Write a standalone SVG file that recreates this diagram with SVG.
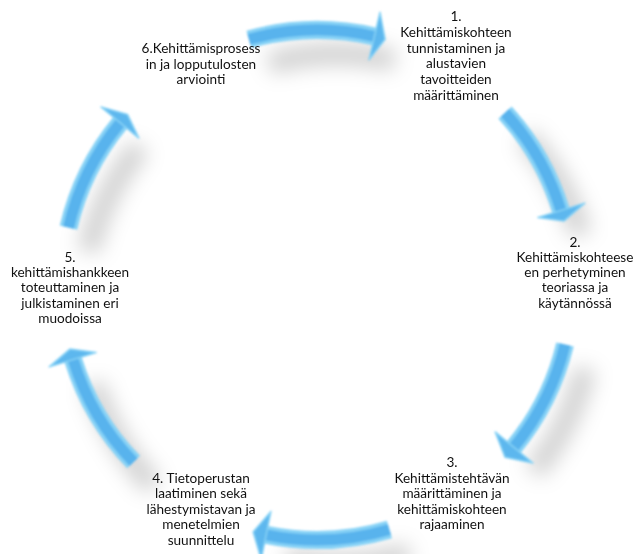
<svg xmlns="http://www.w3.org/2000/svg" width="633" height="554" viewBox="0 0 633 554">
<defs>
<filter id="sh" x="-50%" y="-50%" width="200%" height="200%"><feGaussianBlur stdDeviation="10"/></filter>
<filter id="soft" x="-10%" y="-10%" width="120%" height="120%"><feGaussianBlur stdDeviation="0.8"/></filter>
<style>
.t{font-family:Lato,"Liberation Sans",sans-serif;font-size:13.6px;fill:#111;text-anchor:middle}
.b{fill:none;stroke:#86d2f6;stroke-width:18}
.hl{fill:none;stroke:#58b3ed;stroke-width:11}
.h{fill:#5db7ee;stroke:#86d2f6;stroke-width:1.5;stroke-linejoin:round}
.s{fill:none;stroke:#000;stroke-width:22;opacity:0.18}
</style>
</defs>
<rect width="633" height="554" fill="#fff"/>
<g id="shadows" filter="url(#sh)" transform="translate(20,24)">
<path class="s" d="M248.9,39.3 A255,255 0 0 1 374.4,36.5"/>
<path class="s" d="M505.0,112.7 A255,255 0 0 1 560.9,210.4"/>
<path class="s" d="M565.0,344.5 A255,255 0 0 1 513.8,447.2"/>
<path class="s" d="M389.4,529.5 A255,255 0 0 1 266.2,534.9"/>
<path class="s" d="M133.6,462.1 A255,255 0 0 1 73.1,359.6"/>
<path class="s" d="M68.5,227.6 A255,255 0 0 1 120.2,122.8"/>
</g>
<g id="connectors" filter="url(#soft)">
<g id="a61">
<path class="b" d="M248.9,39.3 A255,255 0 0 1 374.4,36.5"/>
<path class="hl" d="M248.9,39.3 A255,255 0 0 1 374.4,36.5"/>
<polygon class="h" points="380.0,12.2 385.1,39.3 369.0,59.9"/>
</g>
<g id="a12">
<path class="b" d="M505.0,112.7 A255,255 0 0 1 560.9,210.4"/>
<path class="hl" d="M505.0,112.7 A255,255 0 0 1 560.9,210.4"/>
<polygon class="h" points="584.8,203.1 563.9,221.1 537.9,217.5"/>
</g>
<g id="a23">
<path class="b" d="M565.0,344.5 A255,255 0 0 1 513.8,447.2"/>
<path class="hl" d="M565.0,344.5 A255,255 0 0 1 513.8,447.2"/>
<polygon class="h" points="533.0,463.1 505.0,457.3 495.2,431.9"/>
</g>
<g id="a34">
<path class="b" d="M389.4,529.5 A255,255 0 0 1 266.2,534.9"/>
<path class="hl" d="M389.4,529.5 A255,255 0 0 1 266.2,534.9"/>
<polygon class="h" points="261.2,559.4 253.1,531.9 270.9,511.4"/>
</g>
<g id="a45">
<path class="b" d="M133.6,462.1 A255,255 0 0 1 73.1,359.6"/>
<path class="hl" d="M133.6,462.1 A255,255 0 0 1 73.1,359.6"/>
<polygon class="h" points="49.2,366.9 70.1,348.9 96.1,352.5"/>
</g>
<g id="a56">
<path class="b" d="M68.5,227.6 A255,255 0 0 1 120.2,122.8"/>
<path class="hl" d="M68.5,227.6 A255,255 0 0 1 120.2,122.8"/>
<polygon class="h" points="101.0,106.9 127.5,114.4 138.8,138.1"/>
</g>
</g>
<g id="n1">
<text class="t"><tspan x="456" y="21">1.</tspan><tspan x="456" y="37">Kehittämiskohteen</tspan><tspan x="456" y="53">tunnistaminen ja</tspan><tspan x="456" y="68">alustavien</tspan><tspan x="456" y="84">tavoitteiden</tspan><tspan x="456" y="100">määrittäminen</tspan></text>
</g>
<g id="n2">
<text class="t"><tspan x="575" y="247">2.</tspan><tspan x="575" y="262">Kehittämiskohteese</tspan><tspan x="575" y="277">en perhetyminen</tspan><tspan x="575" y="292">teoriassa ja</tspan><tspan x="575" y="308">käytännössä</tspan></text>
</g>
<g id="n3">
<text class="t"><tspan x="452" y="467">3.</tspan><tspan x="452" y="483">Kehittämistehtävän</tspan><tspan x="452" y="498">määrittäminen ja</tspan><tspan x="452" y="514">kehittämiskohteen</tspan><tspan x="452" y="529">rajaaminen</tspan></text>
</g>
<g id="n4">
<text class="t"><tspan x="201" y="483">4. Tietoperustan</tspan><tspan x="201" y="498">laatiminen sekä</tspan><tspan x="201" y="514">lähestymistavan ja</tspan><tspan x="201" y="529">menetelmien</tspan><tspan x="201" y="545">suunnittelu</tspan></text>
</g>
<g id="n5">
<text class="t"><tspan x="70" y="262">5.</tspan><tspan x="70" y="277">kehittämishankkeen</tspan><tspan x="70" y="292">toteuttaminen ja</tspan><tspan x="70" y="308">julkistaminen eri</tspan><tspan x="70" y="323">muodoissa</tspan></text>
</g>
<g id="n6">
<text class="t"><tspan x="201" y="53">6.Kehittämisprosess</tspan><tspan x="201" y="69">in ja lopputulosten</tspan><tspan x="201" y="84">arviointi</tspan></text>
</g>
</svg>
